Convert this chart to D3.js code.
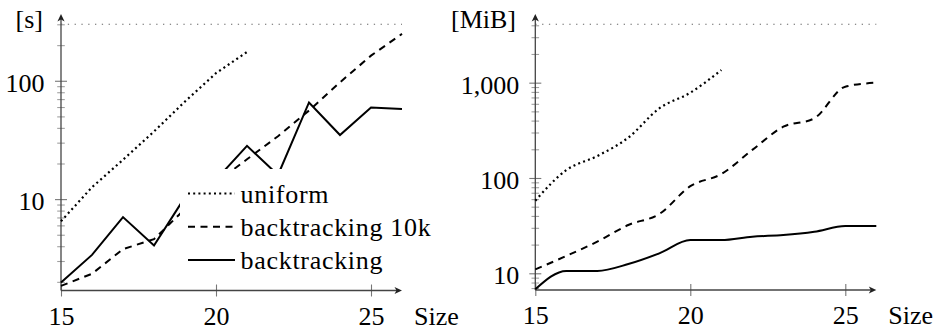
<!DOCTYPE html>
<html>
<head>
<meta charset="utf-8">
<script src="https://cdn.jsdelivr.net/npm/d3@7"></script>
<style>
  html, body { margin: 0; padding: 0; background: #fff; }
  svg { display: block; }
  text { font-family: "Liberation Serif", "DejaVu Serif", serif; fill: #000; }
</style>
</head>
<body>
<svg id="chart" width="942" height="332"></svg>
<script>
// ---- data ----
const sizes = [15, 16, 17, 18, 19, 20, 21, 22, 23, 24, 25, 26];
const xTickValues = [15, 20, 25];
const seriesNames = ["uniform", "backtracking 10k", "backtracking"];

// time in seconds
const timeUniform = [6.5, 12.6, 21.5, 37.3, 66.8, 116, 175];
const timeBacktracking10k = [1.85, 2.34, 3.78, 4.59, 8.25, 13.8, 21.7, 34, 56, 97, 163, 249];
const timeBacktracking = [1.97, 3.38, 7.05, 4.05, 10.4, 14.6, 28.2, 16.0, 65.6, 34.8, 59.4, 57.7];
const timeLimit = 300;
const timeTickValues = [10, 100];

// memory in MiB
const memUniform = [57.8, 121, 170, 265, 538, 785, 1358];
const memBacktracking10k = [11.0, 15.2, 21.5, 32.1, 41.9, 82, 110, 197, 345, 423, 908, 1000];
const memBacktracking = [6.8, 10.6, 10.6, 12.5, 16.2, 22.3, 22.3, 24.2, 25.2, 27.3, 31.3, 31.3];
const memLimit = 4096;
const memTickValues = [10, 100, 1000];

// ---- drawing ----
const svg = d3.select("#chart");
const FONT = 26;
const styles = {
  "uniform": { dash: "2,3.2", width: 2.2 },
  "backtracking 10k": { dash: "7,5.5", width: 2 },
  "backtracking": { dash: null, width: 2 }
};

function arrowPath(x, y, dir) {
  if (dir === "up") {
    return `M${x},${y} L${x + 3.6},${y + 7.5} L${x},${y + 5.5} L${x - 3.6},${y + 7.5} Z`;
  }
  return `M${x},${y} L${x - 7.5},${y - 3.6} L${x - 5.5},${y} L${x - 7.5},${y + 3.6} Z`;
}

function drawPanel(cfg) {
  const g = svg.append("g");
  const x = d3.scaleLinear().domain([15, 26]).range([cfg.left, cfg.right]);
  const y = d3.scaleLog().domain(cfg.yDomain).range([cfg.bottom, cfg.top]);

  // limit line (dotted gray)
  g.append("line")
    .attr("x1", x(15)).attr("x2", x(26))
    .attr("y1", y(cfg.limit)).attr("y2", y(cfg.limit))
    .attr("stroke", "#666").attr("stroke-width", 1.1)
    .attr("stroke-dasharray", "1.3,5.5");

  // minor ticks
  const minor = y.ticks().filter(v => !cfg.yTicks.includes(v));
  const minorAxis = g.append("g").attr("transform", `translate(${cfg.left},0)`)
    .call(d3.axisLeft(y).tickValues(minor).tickFormat("").tickSizeOuter(0).tickSizeInner(4));
  minorAxis.select(".domain").remove();
  minorAxis.selectAll(".tick line").attr("x1", -3.8).attr("x2", 3.8)
    .attr("stroke", "#a0a0a0").attr("stroke-width", 1.1);

  // major y ticks + labels
  const yAxis = g.append("g").attr("transform", `translate(${cfg.left},0)`)
    .call(d3.axisLeft(y).tickValues(cfg.yTicks).tickFormat(d3.format(",")).tickSizeOuter(0).tickSizeInner(6));
  yAxis.attr("font-family", null);
  yAxis.select(".domain").remove();
  yAxis.selectAll(".tick line").attr("x1", -6).attr("x2", 6)
    .attr("stroke", "#777").attr("stroke-width", 1.1);
  yAxis.selectAll(".tick text")
    .attr("x", -cfg.labelGap).attr("dy", "0.41em")
    .attr("font-size", FONT).attr("fill", "#000");

  // x axis ticks + labels
  const xAxis = g.append("g").attr("transform", `translate(0,${cfg.bottom})`)
    .call(d3.axisBottom(x).tickValues(xTickValues).tickFormat(d3.format("d")).tickSizeOuter(0).tickSizeInner(6));
  xAxis.attr("font-family", null);
  xAxis.select(".domain").remove();
  xAxis.selectAll(".tick line").attr("y1", -6).attr("y2", 6)
    .attr("stroke", "#777").attr("stroke-width", 1.1);
  xAxis.selectAll(".tick text")
    .attr("y", 34).attr("dy", 0)
    .attr("font-size", FONT).attr("fill", "#000");

  // axis lines with arrows
  g.append("line").attr("x1", cfg.left).attr("x2", cfg.left)
    .attr("y1", cfg.bottom).attr("y2", cfg.axisTop + 5)
    .attr("stroke", "#444").attr("stroke-width", 1.3);
  g.append("path").attr("d", arrowPath(cfg.left, cfg.axisTop, "up")).attr("fill", "#222");
  g.append("line").attr("x1", cfg.left).attr("x2", cfg.right - 5)
    .attr("y1", cfg.bottom).attr("y2", cfg.bottom)
    .attr("stroke", "#444").attr("stroke-width", 1.3);
  g.append("path").attr("d", arrowPath(cfg.right, cfg.bottom, "right")).attr("fill", "#222");

  // data lines
  const line = d3.line()
    .x((d, i) => x(sizes[i]))
    .y(d => y(d))
    .curve(cfg.curve);
  cfg.series.forEach((vals, k) => {
    const st = styles[seriesNames[k]];
    g.append("path")
      .datum(vals)
      .attr("d", line)
      .attr("fill", "none")
      .attr("stroke", "#000")
      .attr("stroke-width", st.width)
      .attr("stroke-linejoin", "miter")
      .attr("stroke-dasharray", st.dash);
  });

  // axis titles
  g.append("text").attr("x", cfg.unitX).attr("y", 28)
    .attr("text-anchor", "end").attr("font-size", FONT).text(cfg.unit);
  g.append("text").attr("x", cfg.right + 12).attr("y", cfg.bottom + 34)
    .attr("font-size", FONT).text("Size");

  return { g, x, y };
}

drawPanel({
  left: 61, right: 402, top: 24.3, bottom: 290.5, axisTop: 14,
  yDomain: [1.69, timeLimit], limit: timeLimit, yTicks: timeTickValues,
  labelGap: 16.5, unit: "[s]", unitX: 43,
  curve: d3.curveLinear,
  series: [timeUniform, timeBacktracking10k, timeBacktracking]
});

drawPanel({
  left: 535.3, right: 876.3, top: 24.3, bottom: 290, axisTop: 14,
  yDomain: [6.68, memLimit], limit: memLimit, yTicks: memTickValues,
  labelGap: 16, unit: "[MiB]", unitX: 516,
  curve: d3.curveMonotoneX,
  series: [memUniform, memBacktracking10k, memBacktracking]
});

// legend (left panel)
const lg = svg.append("g").attr("transform", "translate(180,169)");
lg.append("rect").attr("x", 0).attr("y", 0).attr("width", 264).attr("height", 108).attr("fill", "#fff");
seriesNames.forEach((name, i) => {
  const yy = 24.5 + i * 33.3;
  const st = styles[name];
  lg.append("line").attr("x1", 8).attr("x2", 55).attr("y1", yy).attr("y2", yy)
    .attr("stroke", "#000").attr("stroke-width", st.width)
    .attr("stroke-dasharray", st.dash);
  lg.append("text").attr("x", 60.5).attr("y", yy + 9)
    .attr("font-size", FONT).attr("letter-spacing", 0.7).text(name);
});
</script>
</body>
</html>
